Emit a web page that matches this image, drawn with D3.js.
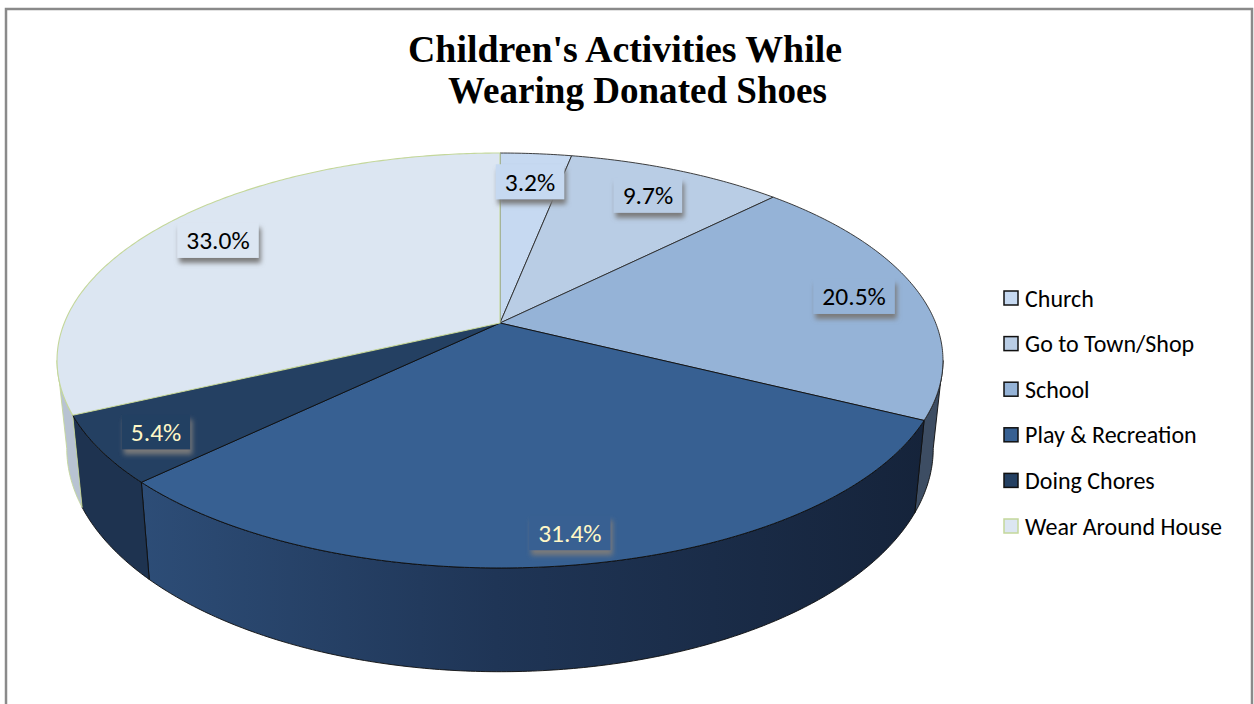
<!DOCTYPE html>
<html>
<head>
<meta charset="utf-8">
<script src="https://cdn.jsdelivr.net/npm/d3@7"></script>
<style>
  html, body { margin: 0; padding: 0; background: #ffffff; }
  svg { display: block; }
</style>
</head>
<body>
<svg id="chart" width="1254" height="704"></svg>
<script>
// ---------------- data ----------------
const categories = ["Church", "Go to Town/Shop", "School", "Play & Recreation", "Doing Chores", "Wear Around House"];
const values = [3.2, 9.7, 20.5, 31.4, 5.4, 33.0];
const valueLabels = values.map(v => v.toFixed(1) + "%");
const titleLines = ["Children's Activities While", "Wearing Donated Shoes"];

// ---------------- styles ----------------
const topColors  = ["#c6d9f1", "#b9cde5", "#95b3d7", "#376092", "#244062", "#dce6f2"];
const sideColors = ["#8ea3bd", "#7f93ab", "#3d4d63", "url(#playSide)", "#1e3350", "#b8c3d2"];
const strokeColors = ["#2a2a2a", "#2a2a2a", "#2a2a2a", "#0d0d0d", "#0d0d0d", "#c4d79b"];
const labelText = ["#000000", "#000000", "#000000", "#fff7c6", "#fff7c6", "#000000"];

const W = 1254, H = 704;
const svg = d3.select("#chart");
const defs = svg.append("defs");

const g1 = defs.append("linearGradient").attr("id", "playSide")
  .attr("gradientUnits", "userSpaceOnUse").attr("x1", 140).attr("x2", 930).attr("y1", 0).attr("y2", 0);
g1.append("stop").attr("offset", "0%").attr("stop-color", "#2d4d77");
g1.append("stop").attr("offset", "45%").attr("stop-color", "#1f3556");
g1.append("stop").attr("offset", "100%").attr("stop-color", "#15233a");

const sh = defs.append("filter").attr("id", "lblShadow")
  .attr("x", "-30%").attr("y", "-30%").attr("width", "160%").attr("height", "180%");
sh.append("feDropShadow").attr("dx", 2).attr("dy", 5).attr("stdDeviation", 2.6)
  .attr("flood-color", "#7a7a7a").attr("flood-opacity", 1);

// chart border
svg.append("rect").attr("x", 6).attr("y", 9).attr("width", 1246).attr("height", 710)
  .attr("fill", "none").attr("stroke", "#8a8a8a").attr("stroke-width", 2.5);

// ---------------- title ----------------
const title = svg.append("g").attr("font-family", "'Liberation Serif', 'Times New Roman', serif")
  .attr("font-weight", "bold").attr("font-size", 37).attr("fill", "#000");
title.append("text").attr("x", 408).attr("y", 62).attr("textLength", 434)
  .attr("lengthAdjust", "spacingAndGlyphs").text(titleLines[0]);
title.append("text").attr("x", 448).attr("y", 103).attr("textLength", 379)
  .attr("lengthAdjust", "spacingAndGlyphs").text(titleLines[1]);

// ---------------- 3D pie projection ----------------
const cx = 500, cy = 323, RX = 435.7, RY = 200.7, K = 0.1807, DEPTH = 85, SHRINK = 0.022;
function proj(theta, f, z) {
  const d = 1 + K * f * Math.cos(theta);
  const x = cx + (RX * f * Math.sin(theta) / d) * (1 - SHRINK * z);
  const y = cy - RY * f * Math.cos(theta) / d + z * DEPTH / d;
  return [x, y];
}
const pie = d3.pie().sort(null).value(d => d).startAngle(0).endAngle(2 * Math.PI);
const arcs = pie(values);

function arcPts(a0, a1, f, z) {
  const n = Math.max(2, Math.ceil(Math.abs(a1 - a0) / 0.01));
  return d3.range(n + 1).map(i => proj(a0 + (a1 - a0) * i / n, f, z));
}
const line = d3.line();

// visible side range
const tMin = Math.acos(-K), tMax = 2 * Math.PI - Math.acos(-K);

const sides = svg.append("g");
arcs.forEach((a, i) => {
  const s = Math.max(a.startAngle, tMin), e = Math.min(a.endAngle, tMax);
  if (e <= s) return;
  const pts = arcPts(s, e, 1, 0).concat(arcPts(e, s, 1, 1));
  sides.append("path").attr("d", line(pts) + "Z")
    .attr("fill", sideColors[i])
    .attr("stroke", i === 5 ? "#c4d79b" : "#0d0d0d").attr("stroke-width", 0.9)
    .attr("stroke-linejoin", "round");
});

const tops = svg.append("g");
arcs.forEach((a, i) => {
  const pts = [proj(0, 0, 0)].concat(arcPts(a.startAngle, a.endAngle, 1, 0));
  tops.append("path").attr("d", line(pts) + "Z")
    .attr("fill", topColors[i])
    .attr("stroke", strokeColors[i]).attr("stroke-width", i === 5 ? 1.1 : 0.9)
    .attr("stroke-linejoin", "round");
});

// ---------------- data labels ----------------
const lblG = svg.append("g").attr("font-family", "Calibri, Carlito, Lato, sans-serif").attr("font-size", 25.5);
arcs.forEach((a, i) => {
  const mid = (a.startAngle + a.endAngle) / 2;
  const f = 0.85 - 0.04 * Math.cos(mid);
  const [lx, ly] = proj(mid, f, 0);
  const g = lblG.append("g");
  const box = g.append("rect").attr("fill", topColors[i]).attr("filter", "url(#lblShadow)");
  const t = g.append("text").attr("x", lx).attr("y", ly + 9).attr("text-anchor", "middle")
    .attr("fill", labelText[i]).text(valueLabels[i]);
  const w = t.node().getComputedTextLength();
  box.attr("x", lx - w / 2 - 9).attr("y", ly - 17.5).attr("width", w + 18).attr("height", 35);
});

// ---------------- legend ----------------
const leg = svg.append("g").attr("font-family", "Calibri, Carlito, Lato, sans-serif").attr("font-size", 24);
const legY = d3.scalePoint().domain(categories).range([298, 526]);
categories.forEach((c, i) => {
  const y = legY(c);
  leg.append("rect").attr("x", 1004).attr("y", y - 7).attr("width", 14).attr("height", 14)
    .attr("fill", topColors[i]).attr("stroke", i === 5 ? "#c4d79b" : "#111").attr("stroke-width", 1.5);
  leg.append("text").attr("x", 1025).attr("y", y + 8.5).attr("fill", "#000").text(c);
});
</script>
</body>
</html>
